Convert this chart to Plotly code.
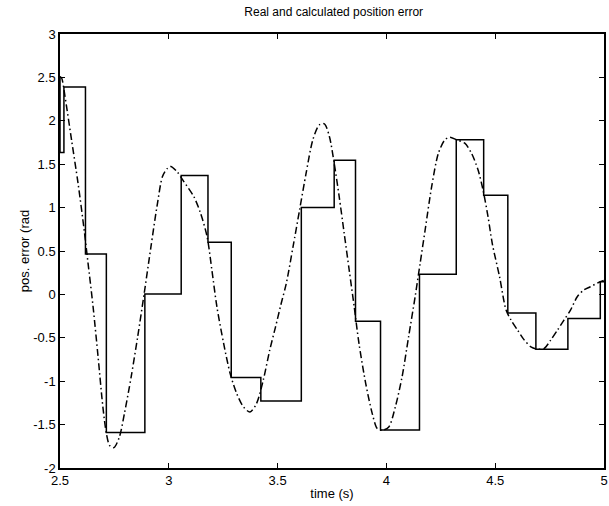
import plotly.graph_objects as go

# Staircase (real position error, sampled) - step change times and levels
step_t = [2.5, 2.5, 2.518, 2.617, 2.713, 2.890, 3.057, 3.180, 3.287, 3.423, 3.609,
          3.760, 3.858, 3.973, 4.152, 4.321, 4.447, 4.558, 4.687, 4.834, 4.983, 5.0]
step_v = [2.51, 1.635, 2.388, 0.465, -1.592, 0.004, 1.369, 0.600, -0.958, -1.227, 1.000,
          1.546, -0.308, -1.562, 0.231, 1.781, 1.142, -0.215, -0.631, -0.277, 0.146, 0.146]

# Continuous (calculated position error) curve
curve_t = [2.500, 2.508, 2.523, 2.553, 2.583, 2.611, 2.629, 2.652, 2.675, 2.697, 2.713,
           2.728, 2.748, 2.773, 2.796, 2.827, 2.857, 2.887, 2.918, 2.948, 2.971, 2.993,
           3.009, 3.039, 3.069, 3.115, 3.146, 3.176, 3.198, 3.221, 3.252, 3.282, 3.312,
           3.343, 3.373, 3.403, 3.434, 3.464, 3.490, 3.515, 3.540, 3.571, 3.601, 3.631,
           3.662, 3.692, 3.715, 3.738, 3.760, 3.783, 3.806, 3.829, 3.852, 3.874, 3.905,
           3.935, 3.958, 3.981, 4.011, 4.041, 4.072, 4.102, 4.132, 4.155, 4.178, 4.208,
           4.239, 4.269, 4.292, 4.322, 4.360, 4.391, 4.421, 4.444, 4.467, 4.487, 4.520,
           4.550, 4.573, 4.603, 4.634, 4.664, 4.694, 4.725, 4.755, 4.786, 4.816, 4.846,
           4.877, 4.907, 4.937, 4.983, 5.000]
curve_v = [2.51, 2.49, 2.28, 1.78, 1.28, 0.742, 0.358, -0.142, -0.719, -1.296, -1.60,
           -1.740, -1.765, -1.642, -1.373, -0.95, -0.488, 0.012, 0.55, 1.05, 1.358, 1.450,
           1.473, 1.410, 1.30, 1.127, 0.935, 0.665, 0.281, -0.142, -0.565, -0.912, -1.142,
           -1.296, -1.354, -1.258, -0.988, -0.64, -0.38, -0.12, 0.127, 0.55, 0.973, 1.396,
           1.781, 1.954, 1.965, 1.819, 1.512, 1.127, 0.704, 0.281, -0.142, -0.565, -1.027,
           -1.373, -1.546, -1.565, -1.527, -1.296, -0.95, -0.488, -0.027, 0.358, 0.742, 1.242,
           1.627, 1.781, 1.810, 1.781, 1.742, 1.627, 1.435, 1.204, 0.896, 0.58, 0.204,
           -0.181, -0.296, -0.412, -0.527, -0.604, -0.631, -0.623, -0.527, -0.412, -0.296, -0.181,
           -0.027, 0.05, 0.088, 0.146, 0.16]

x_ticks = [2.5, 3, 3.5, 4, 4.5, 5]
x_ticktext = ["2.5", "3", "3.5", "4", "4.5", "5"]
y_ticks = [-2, -1.5, -1, -0.5, 0, 0.5, 1, 1.5, 2, 2.5, 3]
y_ticktext = ["-2", "-1.5", "-1", "-0.5", "0", "0.5", "1", "1.5", "2", "2.5", "3"]

FONT = "Liberation Sans, Arial, Helvetica, sans-serif"

fig = go.Figure()
fig.add_trace(go.Scatter(x=step_t, y=step_v, mode="lines",
                         line=dict(color="black", width=1.5, shape="hv"),
                         showlegend=False))
fig.add_trace(go.Scatter(x=curve_t, y=curve_v, mode="lines",
                         line=dict(color="black", width=1.5, shape="spline", smoothing=0.8,
                                   dash="7px,3px,1.5px,3px"),
                         showlegend=False))

axis_common = dict(showgrid=False, zeroline=False, showline=True, linecolor="black",
                   linewidth=1.5, mirror="ticks", ticks="inside", ticklen=5,
                   tickcolor="black", tickwidth=1.2, ticklabeloverflow="allow",
                   tickfont=dict(family=FONT, size=13, color="black"))

fig.update_layout(
    width=609, height=506,
    margin=dict(l=60, r=1, t=34, b=38),
    paper_bgcolor="white", plot_bgcolor="white",
    title=dict(text="Real and calculated position error", x=0.548, xanchor="center",
               y=0.976, yanchor="middle",
               font=dict(family=FONT, size=12, color="black")),
    xaxis=dict(range=[2.5, 5], tickvals=x_ticks, ticktext=x_ticktext,
               title=dict(text="time (s)", standoff=2,
                          font=dict(family=FONT, size=13, color="black")),
               **axis_common),
    yaxis=dict(range=[-2, 3], tickvals=y_ticks, ticktext=y_ticktext,
               title=dict(text="pos. error (rad", standoff=1,
                          font=dict(family=FONT, size=13, color="black")),
               **axis_common),
)

fig.write_html("out.html")
